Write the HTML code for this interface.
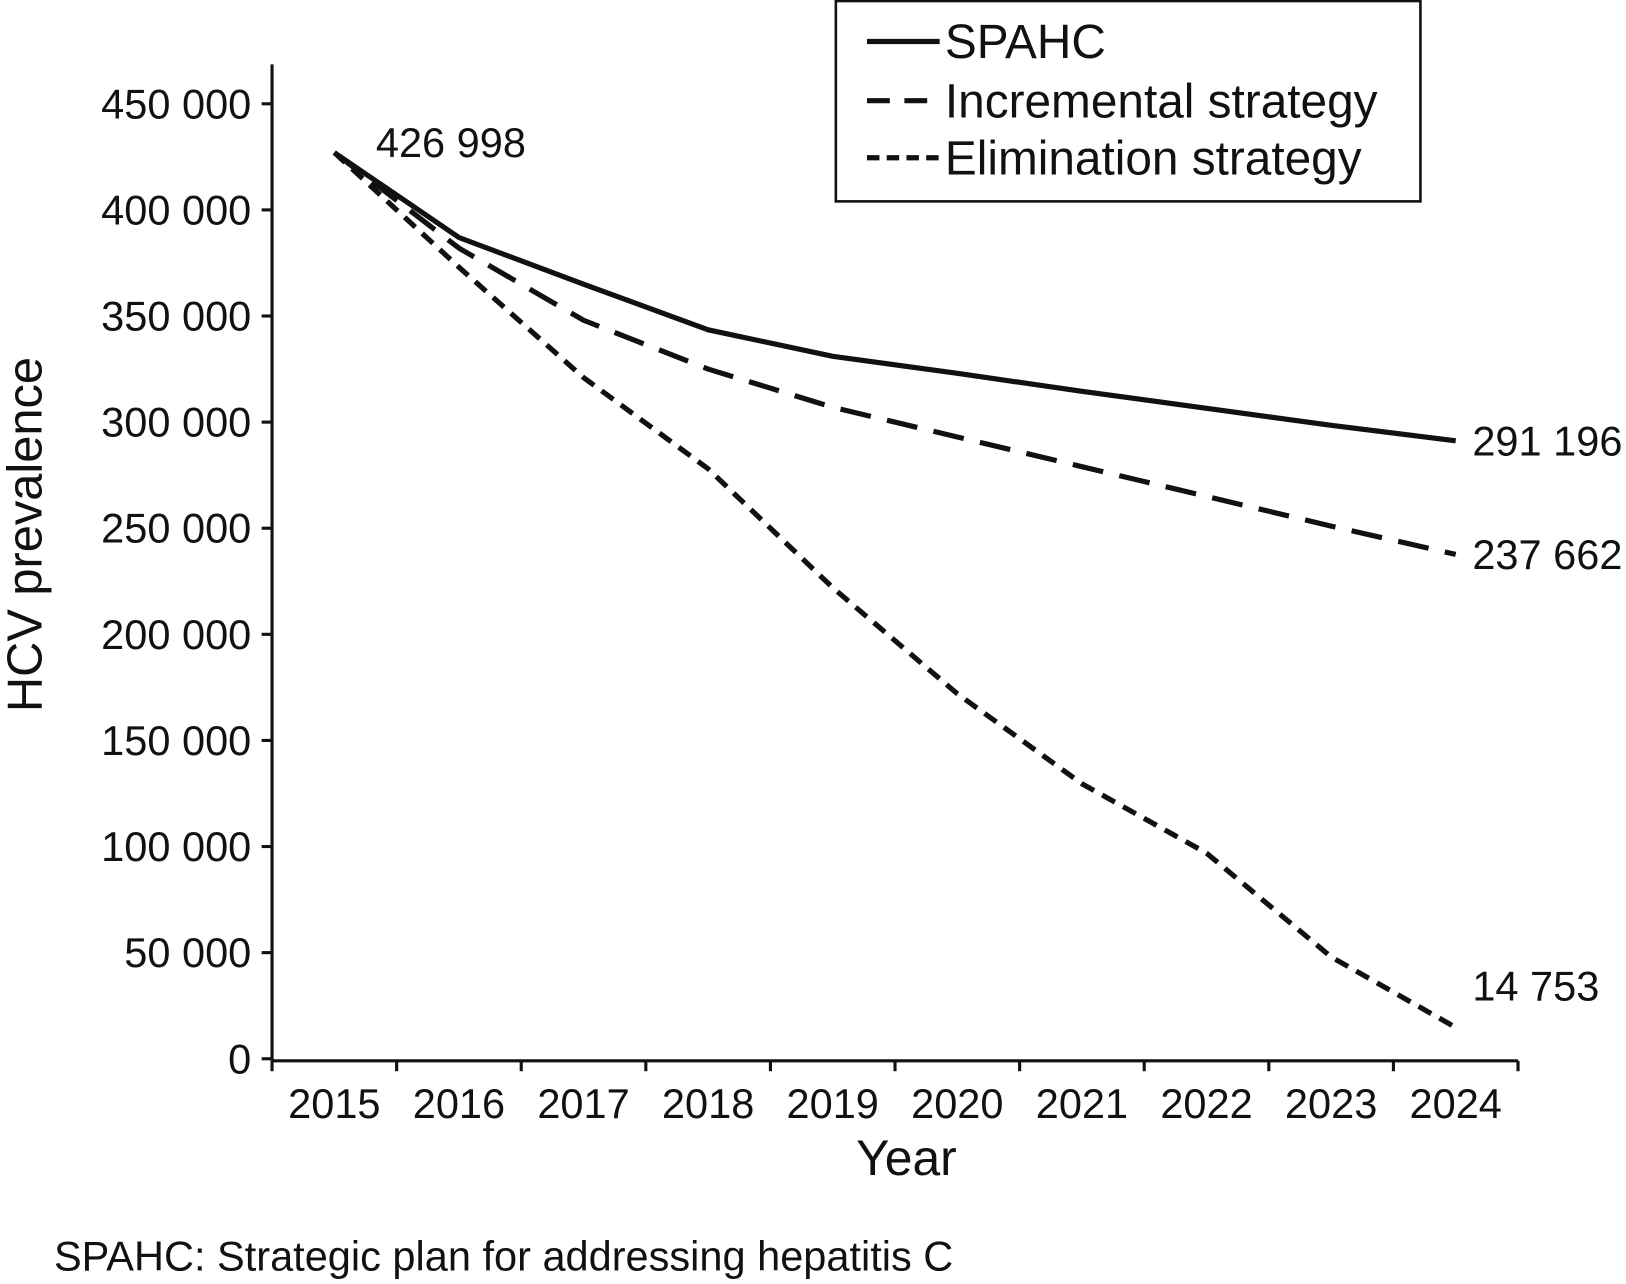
<!DOCTYPE html>
<html><head><meta charset="utf-8"><style>
html,body{margin:0;padding:0;background:#fff;}
svg{display:block;font-family:"Liberation Sans",sans-serif;}
</style></head><body>
<svg id="chart" width="1626" height="1284" viewBox="0 0 1566 1237" preserveAspectRatio="none">
<rect x="0" y="0" width="1566" height="1237" fill="#fff"/>
<g id="axes"></g>
<g id="series"></g>
<g id="legend">
<rect x="805" y="1" width="563" height="193" fill="#fff" stroke="#111" stroke-width="2.5"/>
</g>
<text x="40" y="515" font-size="47" text-anchor="middle" transform="rotate(-90 40 515)" fill="#111">HCV prevalence</text>
<text x="873" y="1132" font-size="48" text-anchor="middle" fill="#111">Year</text>
<text x="52" y="1224" font-size="40" fill="#111">SPAHC: Strategic plan for addressing hepatitis C</text>
</svg>
<script>
const years = ["2015","2016","2017","2018","2019","2020","2021","2022","2023","2024"];
const yTicks = [0,50000,100000,150000,200000,250000,300000,350000,400000,450000];
const yTickLabels = ["0","50 000","100 000","150 000","200 000","250 000","300 000","350 000","400 000","450 000"];
const spahc = [426998,387000,365000,343500,331000,323000,314500,306500,298500,291196];
const incremental = [426998,382000,348000,325000,307000,293000,279000,265000,251000,237662];
const elimination = [426998,373000,321000,278000,222000,172000,129600,96900,48000,14753];
const seriesNames = ["SPAHC","Incremental strategy","Elimination strategy"];
const endLabels = ["291 196","237 662","14 753"];
const startLabel = "426 998";

const NS="http://www.w3.org/2000/svg";
const x0=262,x1=1462,yBase=1020,yTop=100,maxV=450000;
const band=(x1-x0)/years.length;
function xs(i){return x0+band*(i+0.5);}
function ys(v){return yBase-(v/maxV)*(yBase-yTop);}
function mk(tag,attrs,parent,text){const e=document.createElementNS(NS,tag);for(const k in attrs)e.setAttribute(k,attrs[k]);if(text!==undefined)e.textContent=text;parent.appendChild(e);return e;}
const axes=document.getElementById('axes');
let yl=mk('line',{x1:x0,y1:62,x2:x0,y2:1022,stroke:'#111','stroke-width':3},axes);


let xl=mk('line',{x1:x0,y1:1022,x2:x1,y2:1022,stroke:'#111','stroke-width':3},axes);


yTicks.forEach((v,i)=>{
  const y=ys(v);
  mk('line',{x1:x0-10,y1:y,x2:x0,y2:y,stroke:'#111','stroke-width':3},axes);
  const t=mk('text',{x:242,y:y+14,'font-size':40,'text-anchor':'end',fill:'#111'},axes,yTickLabels[i]);
  
  
});
for(let i=0;i<=years.length;i++){
  const x=x0+band*i;
  mk('line',{x1:x,y1:1022,x2:x,y2:1032,stroke:'#111','stroke-width':3},axes);
}
years.forEach((yr,i)=>{
  const t=mk('text',{x:xs(i),y:1077,'font-size':40,'text-anchor':'middle',fill:'#111'},axes,yr);
  
  
});
const sg=document.getElementById('series');
const dashes=["none","30 16","14 9"];
const data=[spahc,incremental,elimination];
const names=["spahc-line","incremental-line","elimination-line"];
data.forEach((arr,k)=>{
  const pts=arr.map((v,i)=>xs(i)+","+ys(v)).join(" ");
  const p=mk('polyline',{points:pts,fill:'none',stroke:'#111','stroke-width':5,'stroke-dasharray':dashes[k],'stroke-linejoin':'round'},sg);
  
  
  const lv=arr[arr.length-1];
  const off=k===2?-26:14;
  const t=mk('text',{x:1418,y:ys(lv)+off,'font-size':40,fill:'#111'},sg,endLabels[k]);
  
  
});
const st=mk('text',{x:362,y:ys(spahc[0])+4,'font-size':40,fill:'#111'},sg,startLabel);


const lg=document.getElementById('legend');
[40,97,152].forEach((y,k)=>{
  const l=mk('line',{x1:835,y1:y,x2:905,y2:y,stroke:'#111','stroke-width':5,'stroke-dasharray':k==0?'none':(k==1?'22 14':'12 7')},lg);
  
  
  const t=mk('text',{x:910,y:y+16,'font-size':46,fill:'#111'},lg,seriesNames[k]);
  
  
});
</script>
</body></html>
